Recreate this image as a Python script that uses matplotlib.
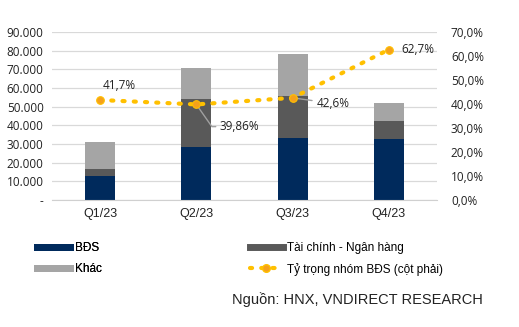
import numpy as np
import matplotlib
matplotlib.use("Agg")
import matplotlib.pyplot as plt
from matplotlib.lines import Line2D

# issuance by sector, billion VND
quarters = ["Q1/23", "Q2/23", "Q3/23", "Q4/23"]
bds = [12900, 28300, 33200, 32600]
tcnh = [3700, 26000, 22600, 10000]
khac = [14400, 16700, 22200, 9400]
# real estate share (right axis, %)
share = [41.7, 39.86, 42.6, 62.7]
share_labels = ["41,7%", "39,86%", "42,6%", "62,7%"]

navy = "#002A5C"
dgray = "#595959"
lgray = "#A5A5A5"
gold = "#FFC000"
orange = "#F5A11C"

plt.rcParams["font.family"] = ["Liberation Sans", "DejaVu Sans"]

fig = plt.figure(figsize=(5.19, 3.27), dpi=100)
ax = fig.add_axes([0.1, 0.388, 0.742, 0.514])
ax2 = ax.twinx()

x = np.arange(len(quarters))
w = 0.31
bottom2 = np.array(bds) + np.array(tcnh)
ax.bar(x, bds, w, color=navy, zorder=2)
ax.bar(x, tcnh, w, bottom=bds, color=dgray, zorder=2)
ax.bar(x, khac, w, bottom=bottom2, color=lgray, zorder=2)

ax.set_xlim(-0.5, 3.5)
ax.set_ylim(0, 90000)
ax.set_yticks(np.arange(0, 90001, 10000))
ylabels = ["-"] + [f"{v:,}".replace(",", ".") for v in range(10000, 90001, 10000)]
ax.set_yticklabels(ylabels, fontsize=8.5, color="#222222", family=["Open Sans", "DejaVu Sans"])
ax.set_xticks(x)
ax.set_xticklabels(quarters, fontsize=9, color="#222222")
ax.grid(axis="y", color="#D9D9D9", linewidth=0.9, zorder=0)
ax.set_axisbelow(True)
for s in ["top", "right", "left"]:
    ax.spines[s].set_visible(False)
ax.spines["bottom"].set_color("#D0D0D0")
ax.tick_params(axis="both", length=0, pad=6)

# share line on the right axis
ax2.plot(x, share, linestyle=(0, (0.5, 2.2)), color=gold, linewidth=3.0,
         dash_capstyle="round", zorder=3)
ax2.plot(x, share, "o", color=orange, markersize=5.5, zorder=4,
         markeredgecolor=gold, markeredgewidth=0.8)
ax2.set_ylim(0, 70)
ax2.set_yticks(np.arange(0, 71, 10))
ax2.set_yticklabels([f"{v},0%" for v in range(0, 71, 10)], fontsize=8.5,
                    color="#222222", family=["Open Sans", "DejaVu Sans"])
ax2.tick_params(axis="y", length=0, pad=10)
for s in ax2.spines.values():
    s.set_visible(False)

lab_font = dict(fontsize=8.5, color="#222222", family=["Open Sans", "DejaVu Sans"])
ax2.annotate(share_labels[0], (x[0], share[0]), xytext=(2, 6),
             textcoords="offset points", ha="left", va="bottom", **lab_font)
ax2.annotate(share_labels[1], (x[1], share[1]), xytext=(17, -16),
             textcoords="offset points", ha="left", va="center",
             arrowprops=dict(arrowstyle="-", color="#A0A0A0", lw=1,
                             connectionstyle="angle,angleA=0,angleB=125,rad=0",
                             shrinkA=1, shrinkB=3), **lab_font)
ax2.annotate(share_labels[2], (x[2], share[2]), xytext=(17, -4),
             textcoords="offset points", ha="left", va="center",
             arrowprops=dict(arrowstyle="-", color="#A0A0A0", lw=1,
                             shrinkA=1, shrinkB=3), **lab_font)
ax2.annotate(share_labels[3], (x[3], share[3]), xytext=(9, 0),
             textcoords="offset points", ha="left", va="center", **lab_font)

# legend in two columns below the chart
h_bds = Line2D([], [], color=navy, linewidth=5)
h_tc = Line2D([], [], color=dgray, linewidth=5)
h_kh = Line2D([], [], color=lgray, linewidth=5)
h_sh = Line2D([], [], color=gold, linestyle=(0, (0.5, 2.2)), linewidth=3,
              dash_capstyle="round", marker="o", markersize=5.5,
              markerfacecolor=orange, markeredgecolor=gold)
leg_kw = dict(loc="upper left", frameon=False, fontsize=8.5, handlelength=2.8,
              handletextpad=0.4, labelspacing=0.75, borderaxespad=0)
leg1 = fig.legend([h_bds, h_kh], ["BĐS", "Khác"],
                  bbox_to_anchor=(0.062, 0.275), **leg_kw)
fig.legend([h_tc, h_sh], ["Tài chính - Ngân hàng", "Tỷ trọng nhóm BĐS (cột phải)"],
           bbox_to_anchor=(0.472, 0.275), **leg_kw)
fig.add_artist(leg1)

fig.text(0.93, 0.083, "Nguồn: HNX, VNDIRECT RESEARCH", ha="right", va="center",
         fontsize=10.5, color="#222222")

fig.savefig("out.png", dpi=100)
